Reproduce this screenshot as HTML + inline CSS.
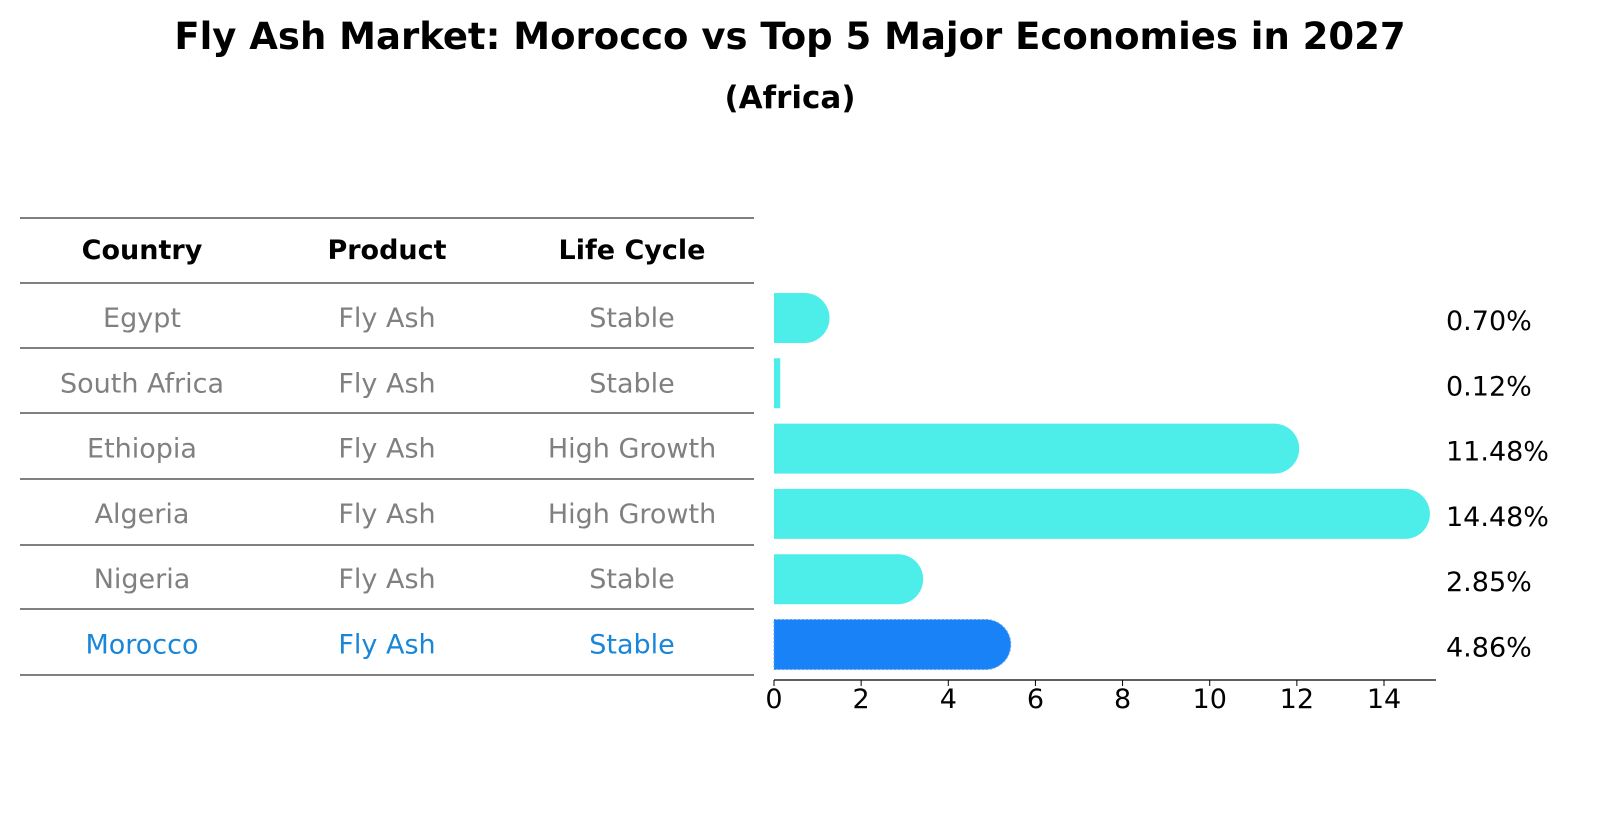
<!DOCTYPE html>
<html><head><meta charset="utf-8"><style>
body{margin:0;background:#fff;font-family:"Liberation Sans","DejaVu Sans",sans-serif}
</style></head><body>
<svg width="1604" height="823" xmlns="http://www.w3.org/2000/svg" font-family="'DejaVu Sans','Liberation Sans',sans-serif">
<text x="790" y="49" text-anchor="middle" font-size="37" font-weight="bold">Fly Ash Market: Morocco vs Top 5 Major Economies in 2027</text>
<text x="790" y="108" text-anchor="middle" font-size="31" font-weight="bold">(Africa)</text>
<g id="table"></g>
<g id="bars"></g>
</svg>
<script>
const countries=["Egypt","South Africa","Ethiopia","Algeria","Nigeria","Morocco"];
const products=["Fly Ash","Fly Ash","Fly Ash","Fly Ash","Fly Ash","Fly Ash"];
const lifeCycles=["Stable","Stable","High Growth","High Growth","Stable","Stable"];
const values=[0.70,0.12,11.48,14.48,2.85,4.86];
const valueLabels=["0.70%","0.12%","11.48%","14.48%","2.85%","4.86%"];
const ticks=[0,2,4,6,8,10,12,14];
const NS="http://www.w3.org/2000/svg";
const x0=774,scale=(1384-774)/14;
const xs=v=>x0+v*scale;
const rowY=i=>318+i*65.3;
const t=document.getElementById('table'),b=document.getElementById('bars');
function mk(tag,attrs,parent){const e=document.createElementNS(NS,tag);for(const k in attrs)e.setAttribute(k,attrs[k]);parent.appendChild(e);return e;}
const lines=[218,283,348,413,479,545,609,675];
lines.forEach((y,i)=>{const l=mk('line',{x1:20,x2:754,y1:y,y2:y,stroke:'#000','stroke-width':1},t);

});
const cols=[142,387,632];
["Country","Product","Life Cycle"].forEach((h,j)=>{const e=mk('text',{x:cols[j],y:259,'text-anchor':'middle','font-size':27,'font-weight':'bold'},t);e.textContent=h;

});
countries.forEach((c,i)=>{
 const y=rowY(i)+9;const col=i===5?'#1a86d8':'#808080';
 [c,products[i],lifeCycles[i]].forEach((s,j)=>{const e=mk('text',{x:cols[j],y:y,'text-anchor':'middle','font-size':27,fill:col},t);e.textContent=s;
 
 });
 const v=values[i],xe=xs(v),h=50,yt=rowY(i)-25,r=25;
 const color=i===5?'#1a82f7':'#4deeea';
 let d='M'+x0+' '+yt+' L'+xe+' '+yt;
 if(v>0.5){d+=' A'+r+' '+r+' 0 0 1 '+xe+' '+(yt+h);}else{d+=' L'+(xe+1)+' '+yt+' L'+(xe+1)+' '+(yt+h)+' L'+xe+' '+(yt+h);}
 d+=' L'+x0+' '+(yt+h)+' Z';
 const p=mk('path',{d:d,fill:color},b);
 if(i===5){p.setAttribute('stroke','#5aa0f0');p.setAttribute('stroke-dasharray','2 2');}
 
 
 const lt=mk('text',{x:1446,y:rowY(i)+12,'font-size':27},b);lt.textContent=valueLabels[i];
 
 
});
const ax=mk('line',{x1:x0,x2:1436,y1:680,y2:680,stroke:'#000','stroke-width':1.3},b);


ticks.forEach(v=>{const tk=mk('line',{x1:xs(v),x2:xs(v),y1:680,y2:686,stroke:'#000'},b);


const tl=mk('text',{x:xs(v),y:708,'text-anchor':'middle','font-size':27},b);tl.textContent=v;

});
</script>
</body></html>
